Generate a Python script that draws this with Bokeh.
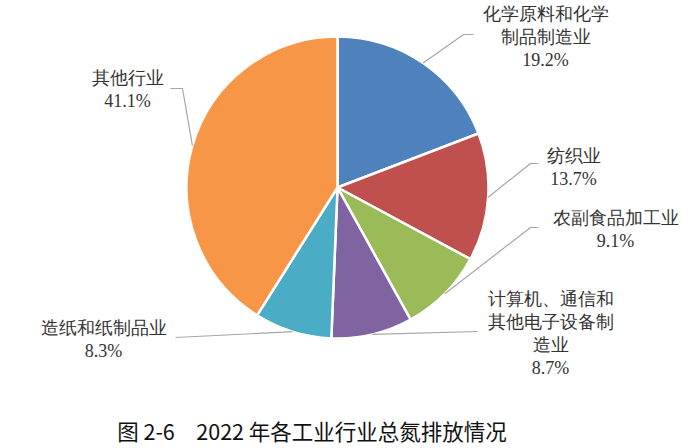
import math
from bokeh.plotting import figure
from bokeh.models import Range1d, ColumnDataSource
from bokeh.core.properties import value
from bokeh.embed import file_html
from bokeh.resources import INLINE

# ---- data ----
categories = ["化学原料和化学制品制造业", "纺织业", "农副食品加工业",
              "计算机、通信和其他电子设备制造业", "造纸和纸制品业", "其他行业"]
shares = [19.2, 13.7, 9.1, 8.7, 8.3, 41.1]
colors = ["#4F81BD", "#C0504D", "#9BBB59", "#8064A2", "#4BACC6", "#F79646"]
title_text = "图 2-6\u30002022 年各工业行业总氮排放情况"

# ---- layout (screen pixels of the 693x448 window) ----
W, H = 693, 448
def sx(px): return px
def sy(py): return H - py

CX, CY, R = 337, 187, 151
wrap = [7, 3, 7, 7, 7, 4]
label_pos = [(545, 13), (573, 155), (615, 217), (550, 298), (103, 327), (127, 77)]
line_gap = 23.3
# leader line bends (after the start point on the pie edge)
leader_pts = [
    [(463, 34), (473, 34)],
    [(530, 163), (538, 163)],
    [(530, 227), (538, 227)],
    [(477, 331)],
    [(175, 337)],
    [(182, 88), (170, 88)],
]

p = figure(width=W, height=H, output_backend="svg", toolbar_location=None,
           x_range=Range1d(0, W), y_range=Range1d(0, H), min_border=0)
p.axis.visible = False
p.grid.visible = False
p.outline_line_color = None
p.background_fill_color = "white"

total = sum(shares)
starts, ends, mids = [], [], []
c = 0.0
for v in shares:
    a0 = c / total * 2 * math.pi
    c += v
    a1 = c / total * 2 * math.pi
    # clockwise from top -> convert to bokeh anticlockwise angles
    starts.append(math.pi / 2 - a1)
    ends.append(math.pi / 2 - a0)
    mids.append((a0 + a1) / 2)

src = ColumnDataSource(dict(start=starts, end=ends, color=colors))
p.wedge(x=sx(CX), y=sy(CY), radius=R, start_angle="start", end_angle="end",
        fill_color="color", line_color="white", line_width=2.5, source=src)

# leader lines
xs, ys = [], []
for m, pts in zip(mids, leader_pts):
    ex = CX + R * math.sin(m)
    ey = CY - R * math.cos(m)
    lx = [sx(ex)] + [sx(q[0]) for q in pts]
    ly = [sy(ey)] + [sy(q[1]) for q in pts]
    xs.append(lx); ys.append(ly)
p.multi_line(xs=xs, ys=ys, line_color="#A6A6A6", line_width=1.2)

# labels
tx, ty, tt = [], [], []
for name, v, w, (lx, ly) in zip(categories, shares, wrap, label_pos):
    lines = [name[i:i + w] for i in range(0, len(name), w)] + [f"{v}%"]
    for k, ln in enumerate(lines):
        tx.append(sx(lx)); ty.append(sy(ly + k * line_gap)); tt.append(ln)
p.text(x=tx, y=ty, text=tt, text_align="center", text_baseline="middle",
       text_font=value("Liberation Serif"), text_font_size="18px", text_color="#333333")

p.text(x=[sx(311.5)], y=[sy(430)], text=[title_text], text_align="center",
       text_baseline="middle", text_font=value("Noto Sans CJK SC"),
       text_font_size="21.5px", text_color="#111111")

open("out.html", "w").write(file_html(p, INLINE))
